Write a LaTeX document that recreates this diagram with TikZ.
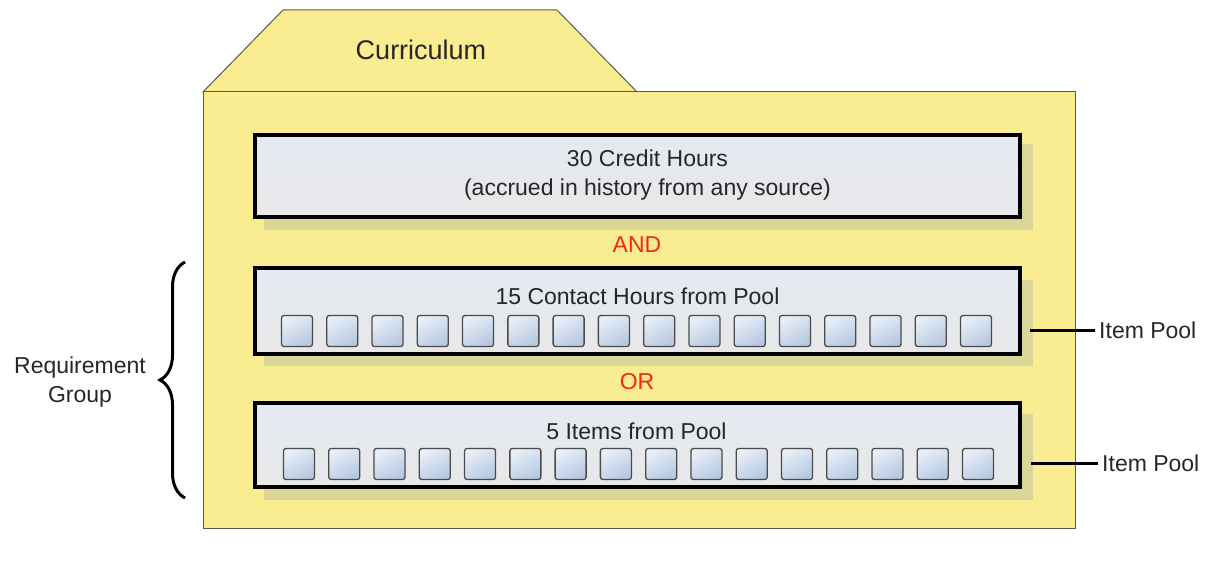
\documentclass[tikz,border=0pt]{standalone}
\usepackage{fontspec}
\setmainfont{Liberation Sans}
\usetikzlibrary{decorations.pathreplacing}
\definecolor{folderfill}{HTML}{FAEC90}
\definecolor{folderline}{HTML}{5A5A4A}
\definecolor{shadowc}{HTML}{D9D697}
\definecolor{boxtop}{HTML}{E4E9F2}
\definecolor{boxbot}{HTML}{E8E8E8}
\definecolor{sqlight}{HTML}{E8EEF7}
\definecolor{sqdark}{HTML}{B6C9E2}
\definecolor{sqline}{HTML}{4A4A4A}
\definecolor{logicred}{HTML}{F02A10}
\definecolor{txt}{HTML}{262626}
\begin{document}
\begin{tikzpicture}[x=1pt,y=-1pt,
  every node/.style={font=\fontsize{23}{29}\selectfont, text=txt},
  folder/.style={fill=folderfill, draw=folderline, line width=1pt},
  reqbox/.style={draw=black, line width=4pt, top color=boxtop, bottom color=boxbot,
     minimum width=765pt, minimum height=82pt, inner sep=0pt},
  boxshadow/.style={fill=shadowc, minimum width=769pt, minimum height=86pt, inner sep=0pt},
  item/.style={draw=sqline, line width=1.3pt, rounded corners=2.5pt, shade, shading=axis,
     top color=sqlight, bottom color=sqdark, shading angle=30,
     minimum width=31pt, minimum height=31pt, inner sep=0pt},
  logic/.style={text=logicred},
  pointer/.style={draw=black, line width=3pt},
  bracestyle/.style={draw=black, line width=3pt, decorate,
     decoration={brace, amplitude=25pt}}
]
\useasboundingbox (0,0) rectangle (1206,569);

% folder tab and body
\draw[folder] (203,92) -- (283,10) -- (557,10) -- (637,92) -- cycle;
\node (tab) at (421,50) {\fontsize{27}{31}\selectfont Curriculum};
\draw[folder] (203,92) rectangle (1075,528);

% requirement boxes with shadows
\node[boxshadow] (sh1) at (648.5,187) {};
\node[boxshadow] (sh2) at (648.5,323) {};
\node[boxshadow] (sh3) at (648.5,457) {};

\node[reqbox] (b1) at (637.5,176) {};
\node[align=center] (t1) at (647.5,175) {30 Credit Hours\\(accrued in history from any source)};

\node[logic] (and) at (637,245) {AND};

\node[reqbox, minimum height=86pt] (b2) at (637.5,311) {};
\node (t2) at (637.5,296) {15 Contact Hours from Pool};
\foreach \i in {0,...,15}{
  \node[item] (p1-\i) at ({297+\i*45.27},331) {};
}

\node[logic] (or) at (637,382) {OR};

\node[reqbox, minimum height=84pt] (b3) at (637.5,445) {};
\node (t3) at (636.5,431) {5 Items from Pool};
\foreach \i in {0,...,15}{
  \node[item] (p2-\i) at ({299+\i*45.27},464) {};
}

% item pool callouts
\node[anchor=west, inner sep=0pt] (ip1) at (1099,330) {Item Pool};
\coordinate (ip1s) at (1030,330);
\draw[pointer] (ip1s) -- ([xshift=-4pt]ip1.west);

\node[anchor=west, inner sep=0pt] (ip2) at (1102,463) {Item Pool};
\coordinate (ip2s) at (1031,463);
\draw[pointer] (ip2s) -- ([xshift=-4pt]ip2.west);

% requirement group brace
\coordinate (brb) at (185,498);
\coordinate (brt) at (185,262);
\draw[bracestyle] (brb) -- (brt);
\node[align=center] (rg) at (80,382) {Requirement\\Group};
\end{tikzpicture}
\end{document}
